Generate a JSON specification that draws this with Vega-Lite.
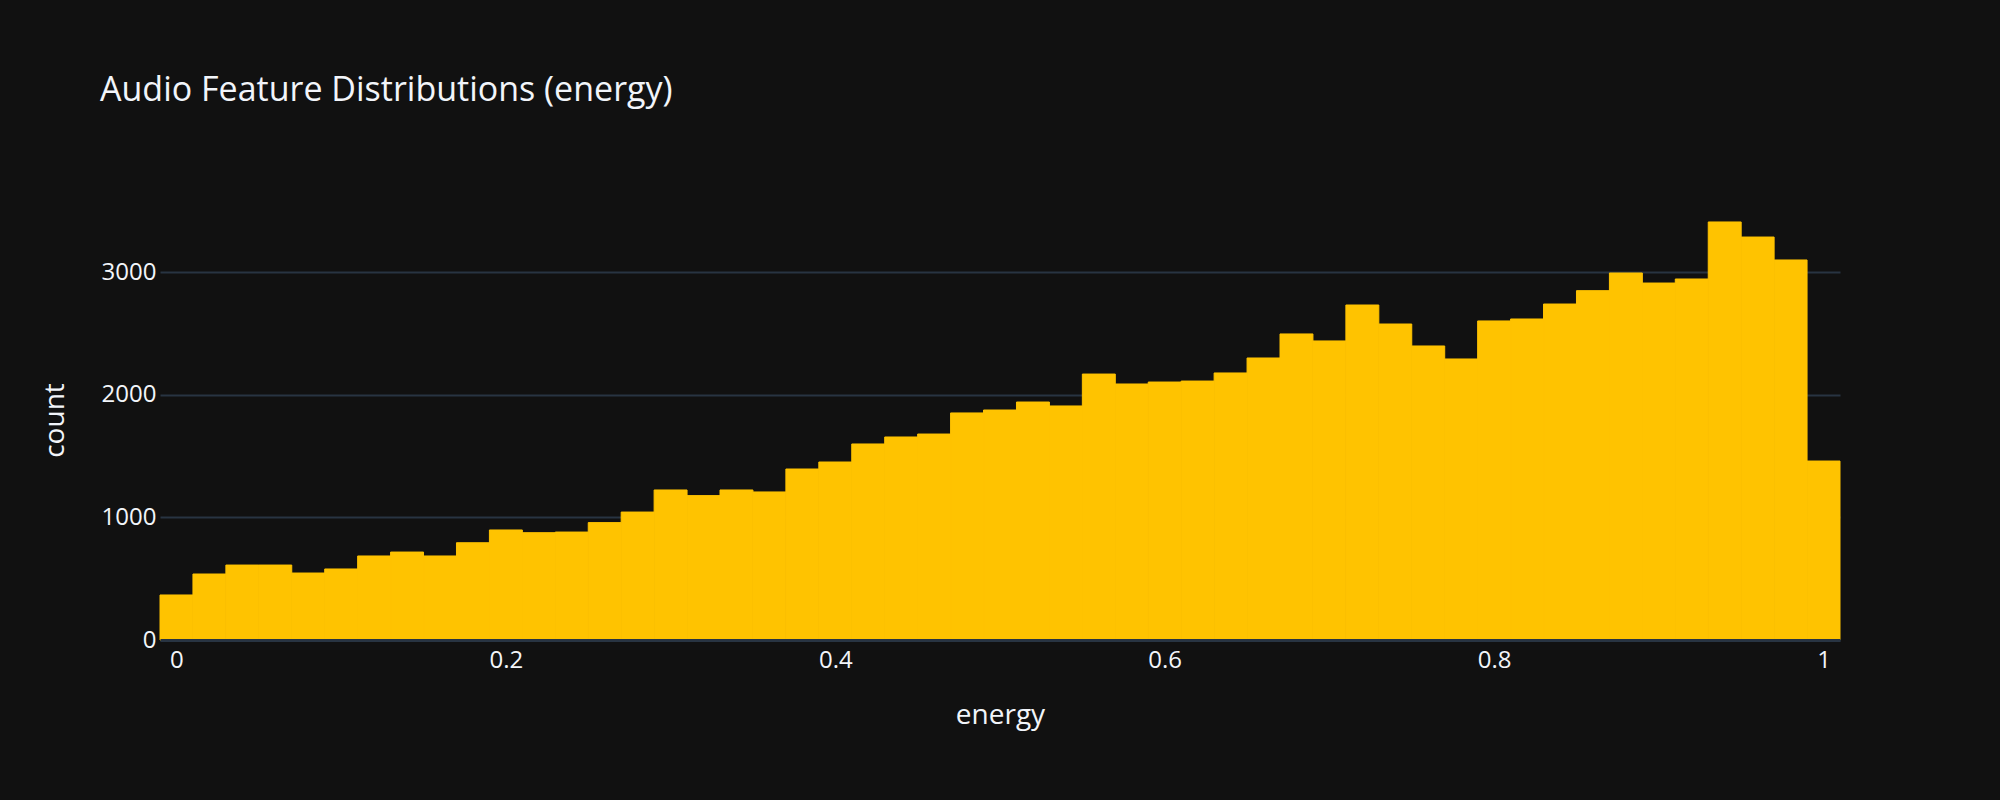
{
  "$schema": "https://vega.github.io/schema/vega-lite/v6.json",
  "width": 1680,
  "height": 440,
  "autosize": {"type": "none"},
  "padding": {"left": 160, "top": 200, "right": 160, "bottom": 160},
  "background": "#111111",
  "title": {
    "text": "Audio Feature Distributions (energy)",
    "anchor": "start",
    "frame": "group",
    "dx": -60,
    "offset": 65,
    "baseline": "alphabetic",
    "font": "Open Sans",
    "fontSize": 34,
    "fontWeight": "normal",
    "color": "#f2f5fa"
  },
  "config": {
    "view": {"stroke": null},
    "font": "Open Sans"
  },
  "data": {
    "values": [
      {"energy_start": -0.01, "energy_end": 0.01, "count": 367},
      {"energy_start": 0.01, "energy_end": 0.03, "count": 538},
      {"energy_start": 0.03, "energy_end": 0.05, "count": 611},
      {"energy_start": 0.05, "energy_end": 0.07, "count": 611},
      {"energy_start": 0.07, "energy_end": 0.09, "count": 546},
      {"energy_start": 0.09, "energy_end": 0.11, "count": 579},
      {"energy_start": 0.11, "energy_end": 0.13, "count": 685},
      {"energy_start": 0.13, "energy_end": 0.15, "count": 717},
      {"energy_start": 0.15, "energy_end": 0.17, "count": 685},
      {"energy_start": 0.17, "energy_end": 0.19, "count": 793},
      {"energy_start": 0.19, "energy_end": 0.21, "count": 897},
      {"energy_start": 0.21, "energy_end": 0.23, "count": 875},
      {"energy_start": 0.23, "energy_end": 0.25, "count": 880},
      {"energy_start": 0.25, "energy_end": 0.27, "count": 957},
      {"energy_start": 0.27, "energy_end": 0.29, "count": 1043},
      {"energy_start": 0.29, "energy_end": 0.31, "count": 1223},
      {"energy_start": 0.31, "energy_end": 0.33, "count": 1177},
      {"energy_start": 0.33, "energy_end": 0.35, "count": 1223},
      {"energy_start": 0.35, "energy_end": 0.37, "count": 1207},
      {"energy_start": 0.37, "energy_end": 0.39, "count": 1394},
      {"energy_start": 0.39, "energy_end": 0.41, "count": 1451},
      {"energy_start": 0.41, "energy_end": 0.43, "count": 1598},
      {"energy_start": 0.43, "energy_end": 0.45, "count": 1655},
      {"energy_start": 0.45, "energy_end": 0.47, "count": 1679},
      {"energy_start": 0.47, "energy_end": 0.49, "count": 1851},
      {"energy_start": 0.49, "energy_end": 0.51, "count": 1875},
      {"energy_start": 0.51, "energy_end": 0.53, "count": 1940},
      {"energy_start": 0.53, "energy_end": 0.55, "count": 1908},
      {"energy_start": 0.55, "energy_end": 0.57, "count": 2168},
      {"energy_start": 0.57, "energy_end": 0.59, "count": 2087},
      {"energy_start": 0.59, "energy_end": 0.61, "count": 2103},
      {"energy_start": 0.61, "energy_end": 0.63, "count": 2111},
      {"energy_start": 0.63, "energy_end": 0.65, "count": 2177},
      {"energy_start": 0.65, "energy_end": 0.67, "count": 2299},
      {"energy_start": 0.67, "energy_end": 0.69, "count": 2495},
      {"energy_start": 0.69, "energy_end": 0.71, "count": 2438},
      {"energy_start": 0.71, "energy_end": 0.73, "count": 2731},
      {"energy_start": 0.73, "energy_end": 0.75, "count": 2576},
      {"energy_start": 0.75, "energy_end": 0.77, "count": 2397},
      {"energy_start": 0.77, "energy_end": 0.79, "count": 2291},
      {"energy_start": 0.79, "energy_end": 0.81, "count": 2601},
      {"energy_start": 0.81, "energy_end": 0.83, "count": 2617},
      {"energy_start": 0.83, "energy_end": 0.85, "count": 2739},
      {"energy_start": 0.85, "energy_end": 0.87, "count": 2848},
      {"energy_start": 0.87, "energy_end": 0.89, "count": 2992},
      {"energy_start": 0.89, "energy_end": 0.91, "count": 2910},
      {"energy_start": 0.91, "energy_end": 0.93, "count": 2943},
      {"energy_start": 0.93, "energy_end": 0.95, "count": 3408},
      {"energy_start": 0.95, "energy_end": 0.97, "count": 3285},
      {"energy_start": 0.97, "energy_end": 0.99, "count": 3098},
      {"energy_start": 0.99, "energy_end": 1.01, "count": 1459}
    ]
  },
  "mark": {"type": "bar", "color": "#FFC300", "stroke": "#FFC300", "strokeWidth": 1, "strokeOpacity": 1, "fillOpacity": 1, "orient": "vertical"},
  "encoding": {
    "x": {
      "field": "energy_start",
      "type": "quantitative",
      "title": "energy",
      "scale": {"domain": [-0.01, 1.01], "nice": false, "zero": false, "padding": 0},
      "axis": {
        "values": [0, 0.2, 0.4, 0.6, 0.8, 1],
        "format": "~g",
        "grid": false,
        "ticks": false,
        "zindex": 1,
        "domainColor": "#283442",
        "domainWidth": 3,
        "labelFont": "Open Sans",
        "labelFontSize": 24,
        "labelColor": "#f2f5fa",
        "labelPadding": 8,
        "labelFlush": false,
        "titleFont": "Open Sans",
        "titleFontSize": 28,
        "titleFontWeight": "normal",
        "titleColor": "#f2f5fa",
        "titleX": 840,
        "titleY": 75,
        "titleBaseline": "middle",
        "titleAlign": "center"
      }
    },
    "x2": {"field": "energy_end"},
    "y": {
      "field": "count",
      "type": "quantitative",
      "title": "count",
      "scale": {"domain": [0, 3587], "nice": false, "padding": 0},
      "axis": {
        "values": [0, 1000, 2000, 3000],
        "format": "d",
        "grid": true,
        "gridColor": "#283442",
        "gridWidth": 2,
        "domain": false,
        "ticks": false,
        "zindex": 0,
        "labelFont": "Open Sans",
        "labelFontSize": 24,
        "labelColor": "#f2f5fa",
        "labelPadding": 4,
        "titleFont": "Open Sans",
        "titleFontSize": 28,
        "titleFontWeight": "normal",
        "titleColor": "#f2f5fa",
        "titleX": -105,
        "titleY": 220,
        "titleAngle": -90,
        "titleBaseline": "middle",
        "titleAlign": "center"
      }
    },
    "y2": {"datum": 0}
  }
}
